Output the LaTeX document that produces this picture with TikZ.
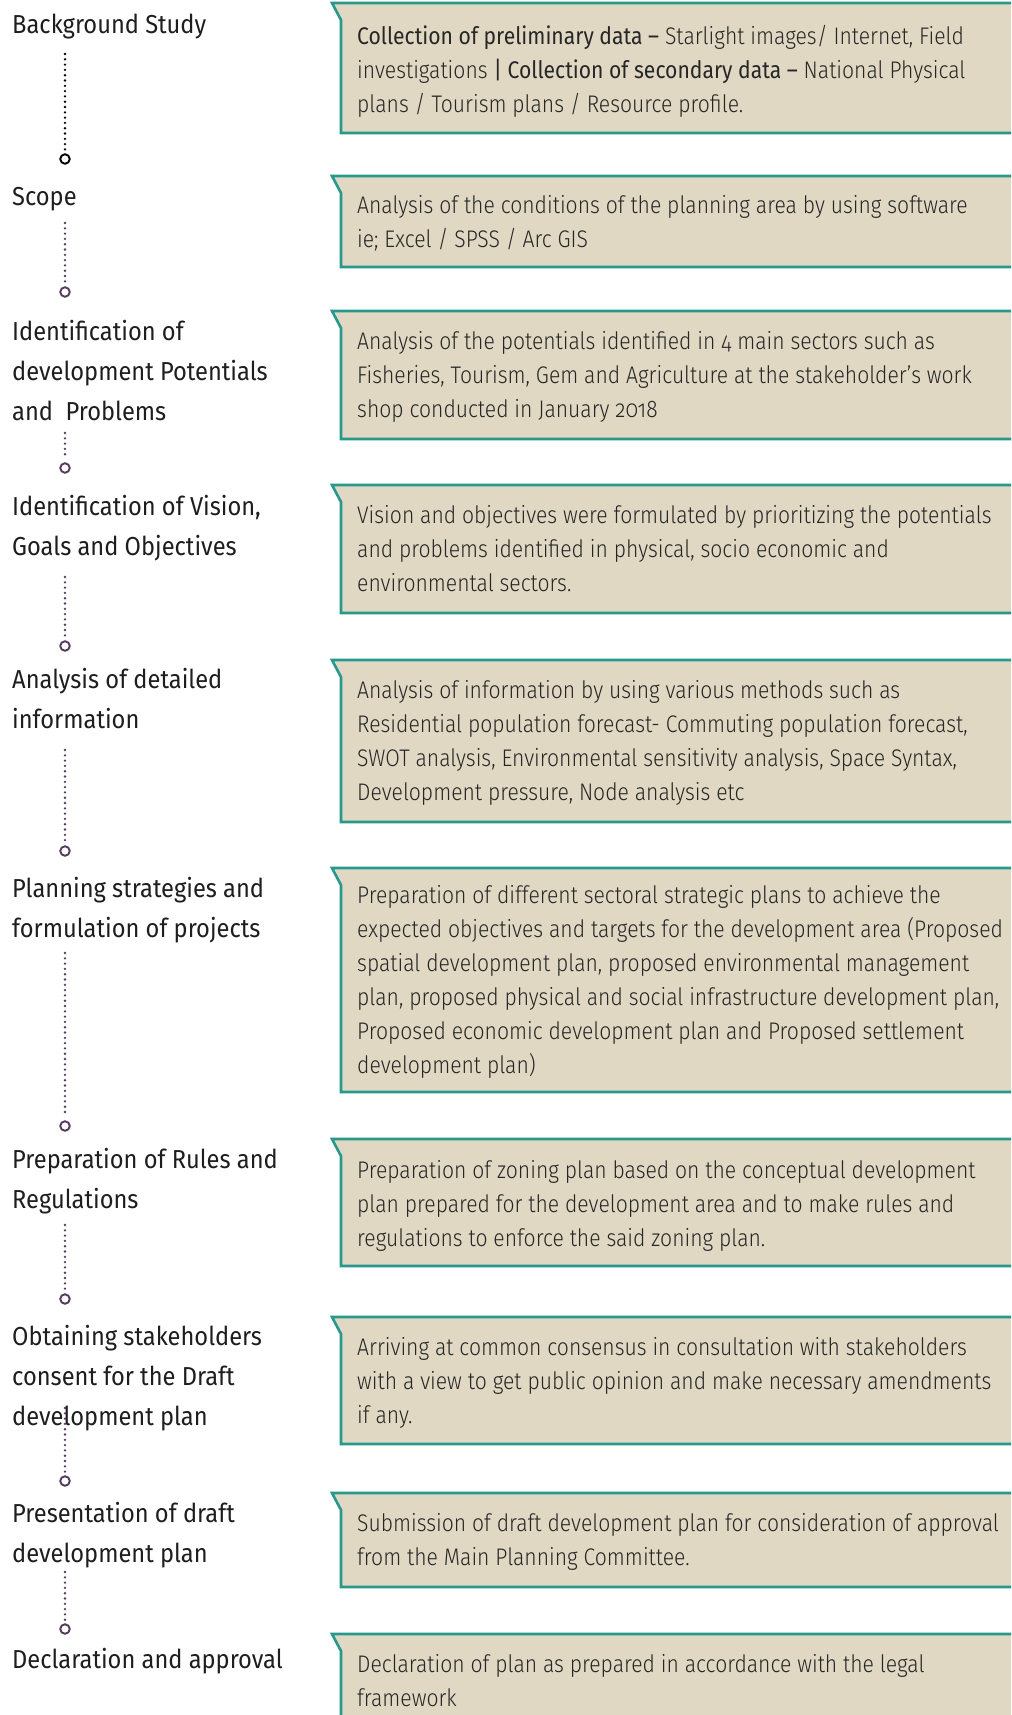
\documentclass[tikz,border=0pt]{standalone}
\usepackage{fontspec}
\setmainfont{Fira Sans}[Numbers=OldStyle]
\newfontfamily\labelfont{Fira Sans}[Numbers=OldStyle,FakeStretch=0.91,Ligatures=TeX]
\newfontfamily\boxfont{Fira Sans Light}[Numbers=OldStyle,FakeStretch=0.88,Ligatures=TeX]
\newfontfamily\boxbf{Fira Sans}[Numbers=OldStyle,FakeStretch=0.88,Ligatures=TeX]
\definecolor{boxfill}{HTML}{E0D8C3}
\definecolor{boxline}{HTML}{26998C}
\definecolor{dotpurple}{HTML}{553A5E}
\definecolor{labeltext}{HTML}{1E1E1E}
\definecolor{bodytext}{HTML}{262626}
\tikzset{
  steplabel/.style={anchor=base west, inner sep=0pt, align=left, text=labeltext,
    font=\labelfont\fontsize{26bp}{40bp}\selectfont},
  boxtext/.style={anchor=base west, inner sep=0pt, align=left, text=bodytext,
    font=\boxfont\fontsize{24bp}{34bp}\selectfont},
  panel/.style={draw=boxline, fill=boxfill, line width=2.6bp, line join=miter},
  dotline/.style={line width=2.6bp, line cap=round, dash pattern=on 0pt off 5.3bp, shorten >=3bp},
  ring/.style={circle, draw, fill=white, line width=1.9bp, minimum size=9.5bp, inner sep=0pt}
}
% #1 name, #2 top, #3 bottom, #4 baseline of the LAST text line, #5 text
\newcommand\planbox[5]{%
  \draw[panel] (1030,#2) -- (332,#2) -- (341,#2+17) -- (341,#3) -- (1030,#3) -- cycle;
  \node[boxtext] (#1) at (357,#4) {#5};
}
\begin{document}
\begin{tikzpicture}[x=1bp,y=-1bp]
\clip (0,0) rectangle (1011,1715);
\fill[white] (0,0) rectangle (1011,1715);

% boxes
\planbox{t1}{3}{133}{112}{{\boxbf Collection of preliminary data –} Starlight images/ Internet, Field\\investigations {\boxbf | Collection of secondary data –} National Physical\\plans / Tourism plans / Resource profile.}
\planbox{t2}{176}{267}{247}{Analysis of the conditions of the planning area by using software\\ie; Excel / SPSS / Arc GIS}
\planbox{t3}{311}{439}{417}{Analysis of the potentials identified in 4 main sectors such as\\Fisheries, Tourism, Gem and Agriculture at the stakeholder’s work\\shop conducted in January 2018}
\planbox{t4}{485}{613}{591}{Vision and objectives were formulated by prioritizing the potentials\\and problems identified in physical, socio economic and\\environmental sectors.}
\planbox{t5}{660}{822}{800}{Analysis of information by using various methods such as\\Residential population forecast- Commuting population forecast,\\SWOT analysis, Environmental sensitivity analysis, Space Syntax,\\Development pressure, Node analysis etc}
\planbox{t6}{868}{1092}{1073}{Preparation of different sectoral strategic plans to achieve the\\expected objectives and targets for the development area (Proposed\\spatial development plan, proposed environmental management\\plan, proposed physical and social infrastructure development plan,\\Proposed economic development plan and Proposed settlement\\development plan)}
\planbox{t7}{1139}{1266}{1246}{Preparation of zoning plan based on the conceptual development\\plan prepared for the development area and to make rules and\\regulations to enforce the said zoning plan.}
\planbox{t8}{1317}{1444}{1423}{Arriving at common consensus in consultation with stakeholders\\with a view to get public opinion and make necessary amendments\\if any.}
\planbox{t9}{1493}{1587}{1565}{Submission of draft development plan for consideration of approval\\from the Main Planning Committee.}
\planbox{t10}{1634}{1730}{1706}{Declaration of plan as prepared in accordance with the legal\\framework}

% labels (anchored at the baseline of the last line)
\node[steplabel] (l1) at (12,33) {Background Study};
\node[steplabel] (l2) at (12,205) {Scope};
\node[steplabel] (l3) at (12,420) {Identification of\\development Potentials\\and\ \ Problems};
\node[steplabel] (l4) at (12,555) {Identification of Vision,\\Goals and Objectives};
\node[steplabel] (l5) at (12,728) {Analysis of detailed\\information};
\node[steplabel] (l6) at (12,937) {Planning strategies and\\formulation of projects};
\node[steplabel] (l7) at (12,1208) {Preparation of Rules and\\Regulations};
\node[steplabel] (l8) at (12,1425) {Obtaining stakeholders\\consent for the Draft\\development plan};
\node[steplabel] (l9) at (12,1562) {Presentation of draft\\development plan};
\node[steplabel] (l10) at (12,1668) {Declaration and approval};

% rings
\node[ring, draw=black] (c1) at (65,159) {};
\node[ring, draw=dotpurple] (c2) at (65,292) {};
\node[ring, draw=dotpurple] (c3) at (65,468) {};
\node[ring, draw=dotpurple] (c4) at (65,646) {};
\node[ring, draw=dotpurple] (c5) at (65,851) {};
\node[ring, draw=dotpurple] (c6) at (65,1126) {};
\node[ring, draw=dotpurple] (c7) at (65,1299) {};
\node[ring, draw=dotpurple] (c8) at (65,1481) {};
\node[ring, draw=dotpurple] (c9) at (65,1629) {};

% dotted connectors
\coordinate (s1) at (65,54);
\coordinate (s2) at (65,223);
\coordinate (s3) at (65,433);
\coordinate (s4) at (65,577);
\coordinate (s5) at (65,750);
\coordinate (s6) at (65,953);
\coordinate (s7) at (65,1225);
\coordinate (s8) at (65,1408);
\coordinate (s9) at (65,1572);
\draw[dotline, black] (s1) -- (c1.north);
\draw[dotline, dotpurple] (s2) -- (c2.north);
\draw[dotline, dotpurple] (s3) -- (c3.north);
\draw[dotline, dotpurple] (s4) -- (c4.north);
\draw[dotline, dotpurple] (s5) -- (c5.north);
\draw[dotline, dotpurple] (s6) -- (c6.north);
\draw[dotline, dotpurple] (s7) -- (c7.north);
\draw[dotline, dotpurple] (s8) -- (c8.north);
\draw[dotline, dotpurple] (s9) -- (c9.north);
\end{tikzpicture}
\end{document}
